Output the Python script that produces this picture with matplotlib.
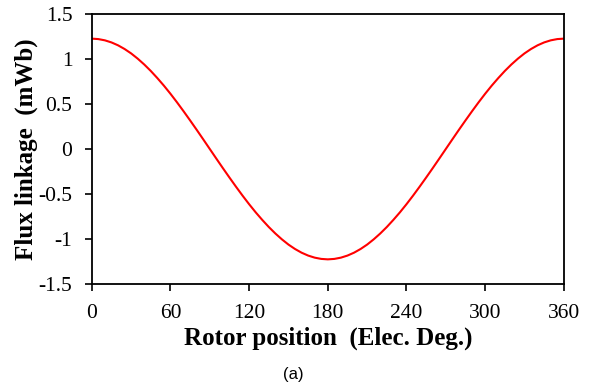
import numpy as np
import matplotlib.pyplot as plt

# Rotor position (electrical degrees) and flux linkage (mWb)
rotor_pos = [0, 5, 10, 15, 20, 25, 30, 35, 40, 45, 50, 55, 60, 65, 70, 75, 80, 85, 90,
             95, 100, 105, 110, 115, 120, 125, 130, 135, 140, 145, 150, 155, 160, 165, 170, 175, 180,
             185, 190, 195, 200, 205, 210, 215, 220, 225, 230, 235, 240, 245, 250, 255, 260, 265, 270,
             275, 280, 285, 290, 295, 300, 305, 310, 315, 320, 325, 330, 335, 340, 345, 350, 355, 360]
flux = [1.225, 1.220, 1.206, 1.183, 1.151, 1.110, 1.061, 1.003, 0.938, 0.866, 0.787, 0.703,
        0.613, 0.518, 0.419, 0.317, 0.213, 0.107, 0.000,
        -0.107, -0.213, -0.317, -0.419, -0.518, -0.613, -0.703, -0.787, -0.866, -0.938, -1.003,
        -1.061, -1.110, -1.151, -1.183, -1.206, -1.220, -1.225,
        -1.220, -1.206, -1.183, -1.151, -1.110, -1.061, -1.003, -0.938, -0.866, -0.787, -0.703,
        -0.613, -0.518, -0.419, -0.317, -0.213, -0.107, 0.000,
        0.107, 0.213, 0.317, 0.419, 0.518, 0.613, 0.703, 0.787, 0.866, 0.938, 1.003,
        1.061, 1.110, 1.151, 1.183, 1.206, 1.220, 1.225]

x_ticks = [0, 60, 120, 180, 240, 300, 360]
y_ticks = [-1.5, -1, -0.5, 0, 0.5, 1, 1.5]
y_tick_labels = ['-1.5', '-1', '-0.5', '0', '0.5', '1', '1.5']

serif = 'Liberation Serif'

fig = plt.figure(figsize=(5.96, 3.85), dpi=100)
ax = fig.add_axes([0.154, 0.262, 0.792, 0.702])

ax.plot(rotor_pos, flux, color='#ff0000', linewidth=1.5)

ax.set_xlim(0, 360)
ax.set_ylim(-1.5, 1.5)
ax.set_xticks(x_ticks)
ax.set_yticks(y_ticks)
ax.set_yticklabels(y_tick_labels)

for lab in ax.get_xticklabels() + ax.get_yticklabels():
    lab.set_fontfamily(serif)
    lab.set_fontsize(15.5)

ax.tick_params(direction='out', length=5, width=1.2, color='black')
ax.tick_params(axis='x', pad=9)
ax.tick_params(axis='y', pad=9)
for sp in ax.spines.values():
    sp.set_linewidth(1.3)
    sp.set_color('black')

ax.set_xlabel('Rotor position  (Elec. Deg.)', fontfamily=serif, fontweight='bold',
              fontsize=18, labelpad=3)
ax.set_ylabel('Flux linkage  (mWb)', fontfamily=serif, fontweight='bold',
              fontsize=18, labelpad=0)

fig.text(0.492, 0.015, '(a)', fontfamily='Liberation Sans', fontsize=12, ha='center')

fig.savefig('out.png', dpi=100)
